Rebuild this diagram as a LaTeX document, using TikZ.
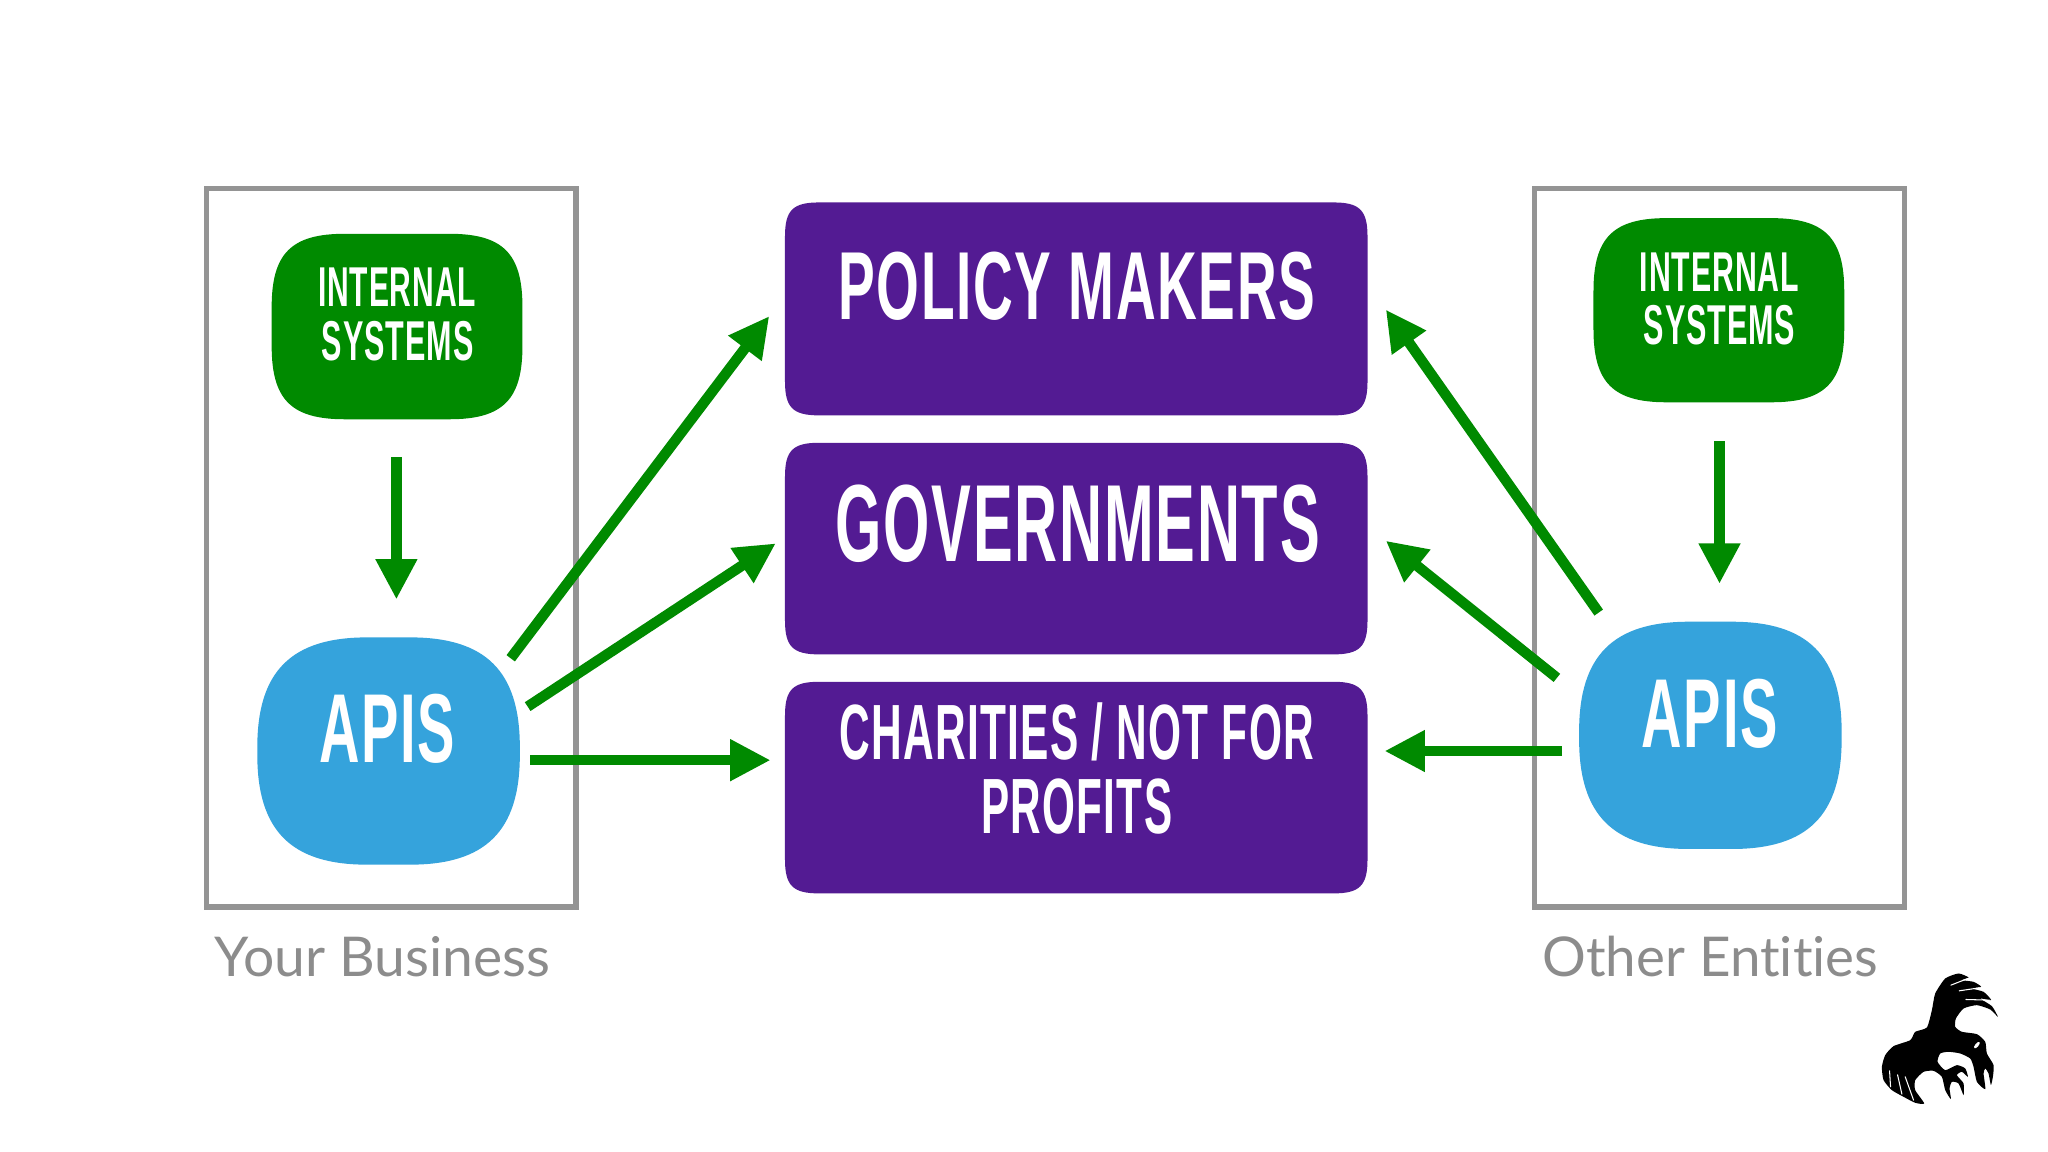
\documentclass[tikz,border=0pt]{standalone}
\usepackage{fontspec}
\usepackage{graphicx}
\usetikzlibrary{arrows.meta}
\newfontfamily\dinfont[BoldFont=* Bold,LetterSpace=3]{Liberation Sans}
\newfontfamily\capfont[Ligatures=NoCommon]{Lato}
\definecolor{grn}{HTML}{008A00}
\definecolor{blu}{HTML}{35A3DC}
\definecolor{pur}{HTML}{531B93}
\definecolor{frm}{HTML}{949494}
\definecolor{cap}{HTML}{8C8C8C}
\newcommand{\sq}[7]{\fill[#1] ({#2+#6},#3) -- ({#4-#6},#3) .. controls ({#4-#7},#3) and (#4,{#3+#7}) .. (#4,{#3+#6}) -- (#4,{#5-#6}) .. controls (#4,{#5-#7}) and ({#4-#7},#5) .. ({#4-#6},#5) -- ({#2+#6},#5) .. controls ({#2+#7},#5) and (#2,{#5-#7}) .. (#2,{#5-#6}) -- (#2,{#3+#6}) .. controls (#2,{#3+#7}) and ({#2+#7},#3) .. ({#2+#6},#3) -- cycle;}
\newcommand{\fit}[3]{\resizebox{#1pt}{\height}{\fontsize{#2}{#2}\selectfont\dinfont\bfseries #3}}
\newcommand{\fitc}[3]{\resizebox{#1pt}{\height}{\fontsize{#2}{#2}\selectfont\capfont #3}}
\tikzset{
  lbl/.style={text=white,inner sep=0pt,anchor=base},
  capt/.style={text=cap,inner sep=0pt,anchor=base},
  frame/.style={draw=frm,line width=4pt,inner sep=0pt,minimum width=283pt,minimum height=550pt},
  flow/.style={draw=grn,line width=8pt,-{Triangle[length=31pt,width=30pt]}},
}
\begin{document}
\begin{tikzpicture}[x=1pt,y=-1pt]
\useasboundingbox (0,0) rectangle (1568,882);
\fill[white] (0,0) rectangle (1568,882);
% frames
\node[frame] (fl) at (299.5,419.5) {};
\node[frame] (fr) at (1316.5,419.5) {};
% left boxes
\sq{grn}{208}{179}{400}{321}{56}{15}
\sq{blu}{197}{488}{398}{662}{84}{26}
% right boxes
\sq{grn}{1220}{167}{1412}{308}{56}{15}
\sq{blu}{1209}{476}{1410}{650}{84}{26}
% centre boxes
\sq{pur}{601}{155}{1047}{318}{26}{6}
\sq{pur}{601}{339}{1047}{501}{26}{6}
\sq{pur}{601}{522}{1047}{684}{26}{6}
% labels
\node[lbl] (il1) at (304,235) {\fit{121}{43}{INTERNAL}};
\node[lbl] (il2) at (304.5,276) {\fit{116}{43}{SYSTEMS}};
\node[lbl] (al) at (296.5,584) {\fit{104}{75}{APIS}};
\node[lbl] (ir1) at (1316.5,223) {\fit{122}{43}{INTERNAL}};
\node[lbl] (ir2) at (1316.5,264) {\fit{116}{43}{SYSTEMS}};
\node[lbl] (ar) at (1309,572) {\fit{104}{75}{APIS}};
\node[lbl] (pm) at (824.5,245) {\fit{365}{74}{POLICY MAKERS}};
\node[lbl] (gv) at (825,430) {\fit{371}{84}{GOVERNMENTS}};
\node[lbl] (ch) at (824.5,581.5) {\fit{363}{60}{CHARITIES / NOT FOR}};
\node[lbl] (pr) at (824.5,638.5) {\fit{146}{60}{PROFITS}};
\node[capt] (yb) at (293,748) {\fitc{257}{42}{Your Business}};
\node[capt] (oe) at (1309.5,748) {\fitc{257}{42}{Other Entities}};
% connector ends
\coordinate (a1) at (303.5,350); \coordinate (a2) at (303.5,459);
\coordinate (b1) at (391,504); \coordinate (b2) at (589,242);
\coordinate (c1) at (404,541); \coordinate (c2) at (594,416);
\coordinate (d1) at (406,582); \coordinate (d2) at (590,582);
\coordinate (e1) at (1316.5,338); \coordinate (e2) at (1316.5,447);
\coordinate (f1) at (1224,469); \coordinate (f2) at (1061,237);
\coordinate (g1) at (1192,519); \coordinate (g2) at (1061,414);
\coordinate (h1) at (1196,575); \coordinate (h2) at (1060,575);
\foreach \s/\t in {a1/a2,b1/b2,c1/c2,d1/d2,e1/e2,f1/f2,g1/g2,h1/h2}
  \draw[flow] (\s) -- (\t);
% logo
\begin{scope}[shift={(1393.6,719.8)},x=0.2552pt,y=-0.2552pt]
\fill[black] plot[smooth cycle,tension=0.35] coordinates {
(335,210)(345,160)(375,115)(415,100)(445,112)(425,120)(460,125)(483,140)(455,145)(490,155)(513,180)(480,175)(515,198)(533,230)
(510,208)(470,195)(430,205)(407,235)(405,260)(425,275)(470,282)(495,305)(500,340)(520,375)(518,410)(512,435)(505,400)(495,385)(490,400)(495,447)(470,425)(460,380)(450,355)(420,340)(385,335)(360,340)(352,365)(375,390)(410,375)(435,385)(443,410)(425,395)(410,405)(430,430)(430,465)(415,430)(395,425)(388,445)(392,477)(375,450)(365,410)(340,392)(310,395)(285,420)(285,450)(312,490)(285,488)(250,470)(215,450)(190,420)(185,380)(195,345)(220,318)(270,300)(285,275)(320,262)};
\draw[white,line width=0.8pt,line cap=round] (392,135)--(443,115) (417,152)--(478,143) (437,178)--(508,180);
\draw[white,line width=0.8pt,line cap=round] (208,392)--(211,440) (232,404)--(245,462) (255,410)--(280,480);
\fill[white,rotate around={50:(470,315)}] (470,315) ellipse (12 and 5);
\end{scope}
\end{tikzpicture}
\end{document}
